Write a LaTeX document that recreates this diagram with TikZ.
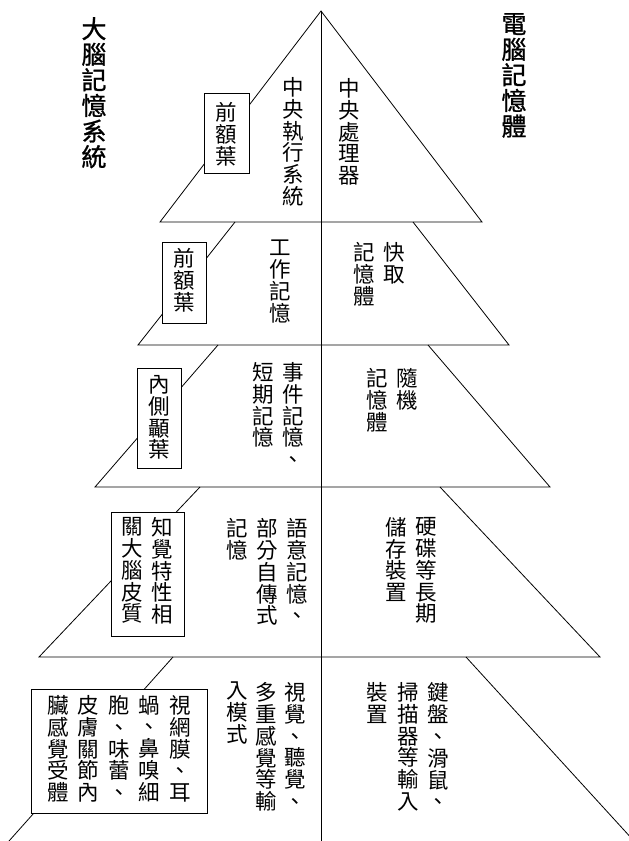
\documentclass[tikz,border=0pt]{standalone}
\usepackage{fontspec}
\setmainfont{Noto Sans CJK TC}[BoldFont={Noto Sans CJK TC},BoldFeatures={FakeBold=1}]
\newcommand\noskip{\lineskiplimit -100pt\relax}
\begin{document}
\begin{tikzpicture}[x=1pt,y=-1pt,
  ln/.style={line width=0.8pt},
  col/.style={anchor=north, inner sep=0pt, align=center, font={\fontsize{21.5}{21.9}\selectfont\noskip}},
  ttl/.style={anchor=north, inner sep=0pt, align=center, font={\fontsize{25}{25.6}\selectfont\noskip\bfseries}},
  lbox/.style={draw, fill=white, line width=0.8pt, inner sep=0pt}]
\useasboundingbox (0,0) rectangle (629,841);
% pyramid vertices
\coordinate (apex) at (321,11);
\coordinate (b1l) at (160,222); \coordinate (b1r) at (482,222);
\coordinate (t2l) at (235,222); \coordinate (t2r) at (413,222);
\coordinate (b2l) at (138,345); \coordinate (b2r) at (509,345);
\coordinate (t3l) at (218,345); \coordinate (t3r) at (428,345);
\coordinate (b3l) at (95,487);  \coordinate (b3r) at (550,487);
\coordinate (t4l) at (200,487); \coordinate (t4r) at (440,487);
\coordinate (b4l) at (39,657);  \coordinate (b4r) at (600,657);
\coordinate (t5l) at (173,657); \coordinate (t5r) at (466,657);
\coordinate (e5l) at (9,841);   \coordinate (e5r) at (634,841);
\coordinate (axb) at (321,841);
\draw[ln] (b1l) -- (apex) -- (b1r) -- cycle;
\draw[ln] (t2l) -- (b2l) -- (b2r) -- (t2r);
\draw[ln] (t3l) -- (b3l) -- (b3r) -- (t3r);
\draw[ln] (t4l) -- (b4l) -- (b4r) -- (t4r);
\draw[ln] (t5l) -- (e5l);
\draw[ln] (t5r) -- (e5r);
\draw[ln] (apex) -- (axb);
% label boxes
\node[lbox, minimum width=45pt, minimum height=80pt] (bx1) at (226.5,133) {};
\node[lbox, minimum width=44pt, minimum height=81pt] (bx2) at (184,282.5) {};
\node[lbox, minimum width=44pt, minimum height=100pt] (bx3) at (159,418) {};
\node[lbox, minimum width=73pt, minimum height=124pt] (bx4) at (147.5,574) {};
\node[lbox, minimum width=176pt, minimum height=124pt] (bx5) at (119,751) {};
% titles
\node[ttl] (tl) at (94,17) {大\\腦\\記\\憶\\系\\統};
\node[ttl] (tr) at (514,13) {電\\腦\\記\\憶\\體};
% tier 1
\node[col] (a1) at (293,77) {中\\央\\執\\行\\系\\統};
\node[col] (a2) at (349.5,78) {中\\央\\處\\理\\器};
\node[col] (a3) at (226,102) {前\\額\\葉};
% tier 2
\node[col] (b1) at (184,248) {前\\額\\葉};
\node[col] (b2) at (280,240) {工\\作\\記\\憶};
\node[col] (b3) at (394,242) {快\\取};
\node[col] (b4) at (364,242) {記\\憶\\體};
% tier 3
\node[col] (c1) at (159,375) {內\\側\\顳\\葉};
\node[col] (c2) at (293,362) {事\\件\\記\\憶\\、};
\node[col] (c3) at (263,362) {短\\期\\記\\憶};
\node[col] (c4) at (407,368) {隨\\機};
\node[col] (c5) at (377,368) {記\\憶\\體};
% tier 4
\node[col] (d1) at (162.5,517) {知\\覺\\特\\性\\相};
\node[col] (d2) at (132.5,517) {關\\大\\腦\\皮\\質};
\node[col] (d3) at (297,518) {語\\意\\記\\憶\\、};
\node[col] (d4) at (267.5,518) {部\\分\\自\\傳\\式};
\node[col] (d5) at (237.5,518) {記\\憶};
\node[col] (d6) at (426,517) {硬\\碟\\等\\長\\期};
\node[col] (d7) at (396,517) {儲\\存\\裝\\置};
% tier 5
\node[col] (e1) at (180,695) {視\\網\\膜\\、\\耳};
\node[col] (e2) at (149,695) {蝸\\、\\鼻\\嗅\\細};
\node[col] (e3) at (119,695) {胞\\、\\味\\蕾\\、};
\node[col] (e4) at (88,695) {皮\\膚\\關\\節\\內};
\node[col] (e5) at (58,695) {臟\\感\\覺\\受\\體};
\node[col] (e6) at (295,682) {視\\覺\\、\\聽\\覺\\、};
\node[col] (e7) at (266,682) {多\\重\\感\\覺\\等\\輸};
\node[col] (e8) at (237,682) {入\\模\\式};
\node[col] (e9) at (438,682) {鍵\\盤\\、\\滑\\鼠\\、};
\node[col] (e10) at (408,682) {掃\\描\\器\\等\\輸\\入};
\node[col] (e11) at (377,682) {裝\\置};
\end{tikzpicture}
\end{document}
